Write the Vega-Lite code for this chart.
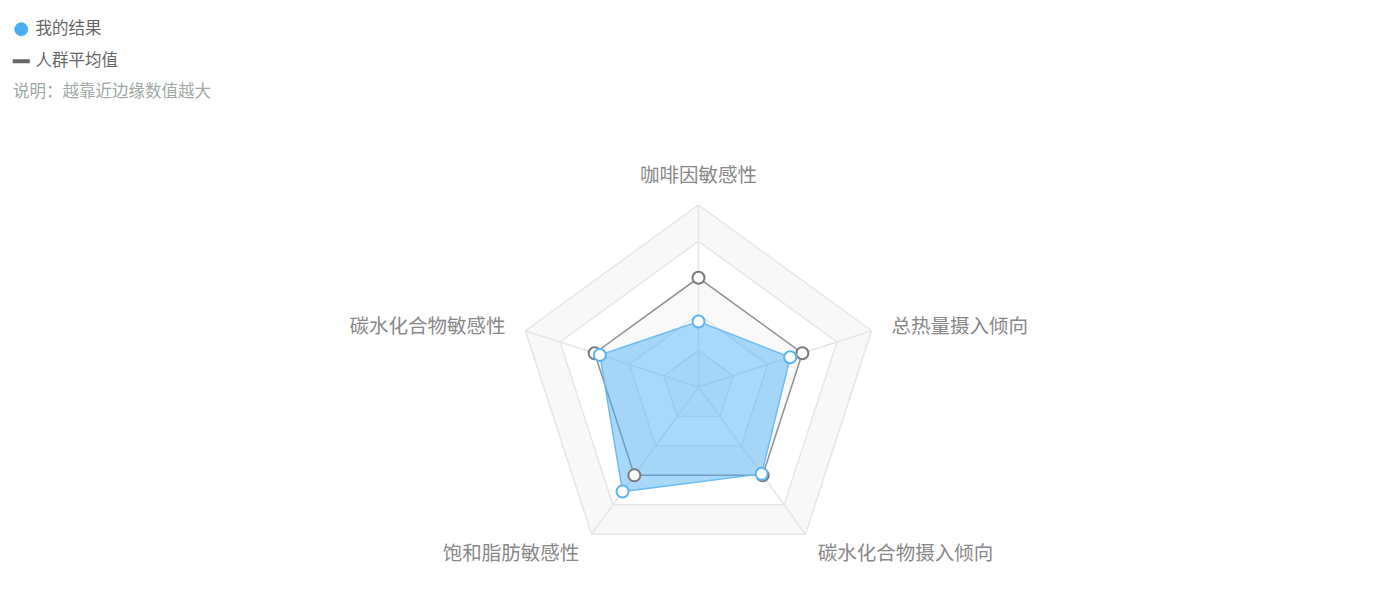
{
  "$schema": "https://vega.github.io/schema/vega-lite/v6.json",
  "width": 1377,
  "height": 607,
  "autosize": {"type": "none"},
  "padding": 0,
  "background": "#ffffff",
  "config": {"view": {"stroke": null}, "font": "Noto Sans CJK SC"},
  "data": {
    "values": [
      {"kind": "score", "series": "我的结果", "axis": "咖啡因敏感性", "value": 36},
      {"kind": "score", "series": "我的结果", "axis": "总热量摄入倾向", "value": 53},
      {"kind": "score", "series": "我的结果", "axis": "碳水化合物摄入倾向", "value": 59},
      {"kind": "score", "series": "我的结果", "axis": "饱和脂肪敏感性", "value": 71},
      {"kind": "score", "series": "我的结果", "axis": "碳水化合物敏感性", "value": 57},
      {"kind": "score", "series": "人群平均值", "axis": "咖啡因敏感性", "value": 60},
      {"kind": "score", "series": "人群平均值", "axis": "总热量摄入倾向", "value": 60},
      {"kind": "score", "series": "人群平均值", "axis": "碳水化合物摄入倾向", "value": 60},
      {"kind": "score", "series": "人群平均值", "axis": "饱和脂肪敏感性", "value": 60},
      {"kind": "score", "series": "人群平均值", "axis": "碳水化合物敏感性", "value": 60},
      {"kind": "grid", "axis": "咖啡因敏感性", "value": 20},
      {"kind": "grid", "axis": "总热量摄入倾向", "value": 20},
      {"kind": "grid", "axis": "碳水化合物摄入倾向", "value": 20},
      {"kind": "grid", "axis": "饱和脂肪敏感性", "value": 20},
      {"kind": "grid", "axis": "碳水化合物敏感性", "value": 20},
      {"kind": "grid", "axis": "咖啡因敏感性", "value": 40},
      {"kind": "grid", "axis": "总热量摄入倾向", "value": 40},
      {"kind": "grid", "axis": "碳水化合物摄入倾向", "value": 40},
      {"kind": "grid", "axis": "饱和脂肪敏感性", "value": 40},
      {"kind": "grid", "axis": "碳水化合物敏感性", "value": 40},
      {"kind": "grid", "axis": "咖啡因敏感性", "value": 60},
      {"kind": "grid", "axis": "总热量摄入倾向", "value": 60},
      {"kind": "grid", "axis": "碳水化合物摄入倾向", "value": 60},
      {"kind": "grid", "axis": "饱和脂肪敏感性", "value": 60},
      {"kind": "grid", "axis": "碳水化合物敏感性", "value": 60},
      {"kind": "grid", "axis": "咖啡因敏感性", "value": 80},
      {"kind": "grid", "axis": "总热量摄入倾向", "value": 80},
      {"kind": "grid", "axis": "碳水化合物摄入倾向", "value": 80},
      {"kind": "grid", "axis": "饱和脂肪敏感性", "value": 80},
      {"kind": "grid", "axis": "碳水化合物敏感性", "value": 80},
      {"kind": "grid", "axis": "咖啡因敏感性", "value": 100},
      {"kind": "grid", "axis": "总热量摄入倾向", "value": 100},
      {"kind": "grid", "axis": "碳水化合物摄入倾向", "value": 100},
      {"kind": "grid", "axis": "饱和脂肪敏感性", "value": 100},
      {"kind": "grid", "axis": "碳水化合物敏感性", "value": 100},
      {"kind": "axis", "axis": "咖啡因敏感性", "value": 100},
      {"kind": "axis", "axis": "总热量摄入倾向", "value": 100},
      {"kind": "axis", "axis": "碳水化合物摄入倾向", "value": 100},
      {"kind": "axis", "axis": "饱和脂肪敏感性", "value": 100},
      {"kind": "axis", "axis": "碳水化合物敏感性", "value": 100}
    ]
  },
  "transform": [
    {"calculate": "indexof(['咖啡因敏感性','总热量摄入倾向','碳水化合物摄入倾向','饱和脂肪敏感性','碳水化合物敏感性'], datum.axis)", "as": "i"},
    {"calculate": "datum.i * 2 * PI / 5", "as": "a"},
    {"calculate": "datum.value / 100 * 182", "as": "r"},
    {"calculate": "datum.r * sin(datum.a)", "as": "x"},
    {"calculate": "datum.r * cos(datum.a)", "as": "y"},
    {"calculate": "203 * sin(datum.a)", "as": "lx"},
    {"calculate": "203 * cos(datum.a)", "as": "ly"},
    {"calculate": "0", "as": "c"}
  ],
  "layer": [
    {
      "transform": [{"filter": "datum.kind === 'grid' && datum.value === 100"}],
      "mark": {"type": "line", "interpolate": "linear-closed", "fill": "#f8f8f8", "stroke": "#e6e6e6", "strokeWidth": 1.5},
      "encoding": {
        "x": {"field": "x", "type": "quantitative", "scale": {"domain": [-698.5, 678.5], "nice": false, "zero": false}, "axis": null},
        "y": {"field": "y", "type": "quantitative", "scale": {"domain": [-220, 387], "nice": false, "zero": false}, "axis": null},
        "order": {"field": "i", "type": "quantitative"}
      }
    },
    {
      "transform": [{"filter": "datum.kind === 'grid' && datum.value === 80"}],
      "mark": {"type": "line", "interpolate": "linear-closed", "fill": "#ffffff", "stroke": "#e6e6e6", "strokeWidth": 1.5},
      "encoding": {
        "x": {"field": "x", "type": "quantitative", "scale": {"domain": [-698.5, 678.5], "nice": false, "zero": false}, "axis": null},
        "y": {"field": "y", "type": "quantitative", "scale": {"domain": [-220, 387], "nice": false, "zero": false}, "axis": null},
        "order": {"field": "i", "type": "quantitative"}
      }
    },
    {
      "transform": [{"filter": "datum.kind === 'grid' && datum.value === 60"}],
      "mark": {"type": "line", "interpolate": "linear-closed", "fill": "#f9f9f9", "stroke": "#e6e6e6", "strokeWidth": 1.5},
      "encoding": {
        "x": {"field": "x", "type": "quantitative", "scale": {"domain": [-698.5, 678.5], "nice": false, "zero": false}, "axis": null},
        "y": {"field": "y", "type": "quantitative", "scale": {"domain": [-220, 387], "nice": false, "zero": false}, "axis": null},
        "order": {"field": "i", "type": "quantitative"}
      }
    },
    {
      "transform": [{"filter": "datum.kind === 'grid' && datum.value === 40"}],
      "mark": {"type": "line", "interpolate": "linear-closed", "fill": "#ffffff", "stroke": "#e6e6e6", "strokeWidth": 1.5},
      "encoding": {
        "x": {"field": "x", "type": "quantitative", "scale": {"domain": [-698.5, 678.5], "nice": false, "zero": false}, "axis": null},
        "y": {"field": "y", "type": "quantitative", "scale": {"domain": [-220, 387], "nice": false, "zero": false}, "axis": null},
        "order": {"field": "i", "type": "quantitative"}
      }
    },
    {
      "transform": [{"filter": "datum.kind === 'grid' && datum.value === 20"}],
      "mark": {"type": "line", "interpolate": "linear-closed", "fill": "#f9f9f9", "stroke": "#e6e6e6", "strokeWidth": 1.5},
      "encoding": {
        "x": {"field": "x", "type": "quantitative", "scale": {"domain": [-698.5, 678.5], "nice": false, "zero": false}, "axis": null},
        "y": {"field": "y", "type": "quantitative", "scale": {"domain": [-220, 387], "nice": false, "zero": false}, "axis": null},
        "order": {"field": "i", "type": "quantitative"}
      }
    },
    {
      "transform": [{"filter": "datum.kind === 'axis'"}],
      "mark": {"type": "rule", "stroke": "#e6e6e6", "strokeWidth": 1.5},
      "encoding": {
        "x": {"field": "c", "type": "quantitative", "scale": {"domain": [-698.5, 678.5], "nice": false, "zero": false}, "axis": null},
        "y": {"field": "c", "type": "quantitative", "scale": {"domain": [-220, 387], "nice": false, "zero": false}, "axis": null},
        "x2": {"field": "x"},
        "y2": {"field": "y"}
      }
    },
    {
      "transform": [{"filter": "datum.kind === 'score' && datum.series === '人群平均值'"}],
      "mark": {"type": "line", "interpolate": "linear-closed", "strokeWidth": 1.5, "strokeOpacity": 0.65},
      "encoding": {
        "x": {"field": "x", "type": "quantitative", "scale": {"domain": [-698.5, 678.5], "nice": false, "zero": false}, "axis": null},
        "y": {"field": "y", "type": "quantitative", "scale": {"domain": [-220, 387], "nice": false, "zero": false}, "axis": null},
        "order": {"field": "i", "type": "quantitative"},
        "stroke": {
          "field": "series",
          "type": "nominal",
          "scale": {"domain": ["我的结果", "人群平均值"], "range": ["#4aaef5", "#666666"]},
          "legend": {
            "title": "说明：越靠近边缘数值越大",
            "titleOrient": "bottom",
            "titleAnchor": "start",
            "titleFontSize": 16.5,
            "titleFontWeight": "normal",
            "titleColor": "#9eaaa2",
            "titleFont": "Noto Sans CJK SC",
            "titlePadding": 14,
            "titleLimit": 600,
            "orient": "none",
            "legendX": 13,
            "legendY": 21,
            "padding": 0,
            "labelFontSize": 16.5,
            "labelColor": "#666666",
            "labelFont": "Noto Sans CJK SC",
            "labelOffset": 6,
            "rowPadding": 15,
            "symbolSize": 289,
            "symbolType": "circle",
            "encode": {
              "symbols": {
                "update": {
                  "shape": {"signal": "datum.label === '人群平均值' ? 'stroke' : 'circle'"},
                  "size": {"signal": "datum.label === '人群平均值' ? 289 : 190"},
                  "fill": {"signal": "datum.label === '人群平均值' ? 'transparent' : '#4aaef5'"},
                  "strokeWidth": {"signal": "datum.label === '人群平均值' ? 4 : 0"},
                  "opacity": {"value": 1},
                  "strokeOpacity": {"value": 1}
                }
              }
            }
          }
        }
      }
    },
    {
      "transform": [{"filter": "datum.kind === 'score' && datum.series === '我的结果'"}],
      "mark": {"type": "line", "interpolate": "linear-closed", "fill": "#4aaef5", "fillOpacity": 0.48, "stroke": "#6dbdf5", "strokeWidth": 1.5},
      "encoding": {
        "x": {"field": "x", "type": "quantitative", "scale": {"domain": [-698.5, 678.5], "nice": false, "zero": false}, "axis": null},
        "y": {"field": "y", "type": "quantitative", "scale": {"domain": [-220, 387], "nice": false, "zero": false}, "axis": null},
        "order": {"field": "i", "type": "quantitative"}
      }
    },
    {
      "transform": [{"filter": "datum.kind === 'score' && datum.series === '人群平均值'"}],
      "mark": {"type": "point", "shape": "circle", "filled": true, "fill": "#ffffff", "stroke": "#7a7a7a", "strokeWidth": 2, "size": 144, "opacity": 1},
      "encoding": {
        "x": {"field": "x", "type": "quantitative", "scale": {"domain": [-698.5, 678.5], "nice": false, "zero": false}, "axis": null},
        "y": {"field": "y", "type": "quantitative", "scale": {"domain": [-220, 387], "nice": false, "zero": false}, "axis": null}
      }
    },
    {
      "transform": [{"filter": "datum.kind === 'score' && datum.series === '我的结果'"}],
      "mark": {"type": "point", "shape": "circle", "filled": true, "fill": "#ffffff", "stroke": "#5ab5f5", "strokeWidth": 2, "size": 144, "opacity": 1},
      "encoding": {
        "x": {"field": "x", "type": "quantitative", "scale": {"domain": [-698.5, 678.5], "nice": false, "zero": false}, "axis": null},
        "y": {"field": "y", "type": "quantitative", "scale": {"domain": [-220, 387], "nice": false, "zero": false}, "axis": null}
      }
    },
    {
      "transform": [{"filter": "datum.kind === 'axis' && datum.i === 0"}],
      "mark": {"type": "text", "align": "center", "baseline": "bottom", "dy": 2, "fontSize": 19.5, "color": "#888888", "font": "Noto Sans CJK SC"},
      "encoding": {
        "x": {"field": "lx", "type": "quantitative", "scale": {"domain": [-698.5, 678.5], "nice": false, "zero": false}, "axis": null},
        "y": {"field": "ly", "type": "quantitative", "scale": {"domain": [-220, 387], "nice": false, "zero": false}, "axis": null},
        "text": {"field": "axis", "type": "nominal"}
      }
    },
    {
      "transform": [{"filter": "datum.kind === 'axis' && (datum.i === 1 || datum.i === 2)"}],
      "mark": {"type": "text", "align": "left", "baseline": "middle", "dy": 2.5, "fontSize": 19.5, "color": "#888888", "font": "Noto Sans CJK SC"},
      "encoding": {
        "x": {"field": "lx", "type": "quantitative", "scale": {"domain": [-698.5, 678.5], "nice": false, "zero": false}, "axis": null},
        "y": {"field": "ly", "type": "quantitative", "scale": {"domain": [-220, 387], "nice": false, "zero": false}, "axis": null},
        "text": {"field": "axis", "type": "nominal"}
      }
    },
    {
      "transform": [{"filter": "datum.kind === 'axis' && (datum.i === 3 || datum.i === 4)"}],
      "mark": {"type": "text", "align": "right", "baseline": "middle", "dy": 2.5, "fontSize": 19.5, "color": "#888888", "font": "Noto Sans CJK SC"},
      "encoding": {
        "x": {"field": "lx", "type": "quantitative", "scale": {"domain": [-698.5, 678.5], "nice": false, "zero": false}, "axis": null},
        "y": {"field": "ly", "type": "quantitative", "scale": {"domain": [-220, 387], "nice": false, "zero": false}, "axis": null},
        "text": {"field": "axis", "type": "nominal"}
      }
    }
  ]
}
